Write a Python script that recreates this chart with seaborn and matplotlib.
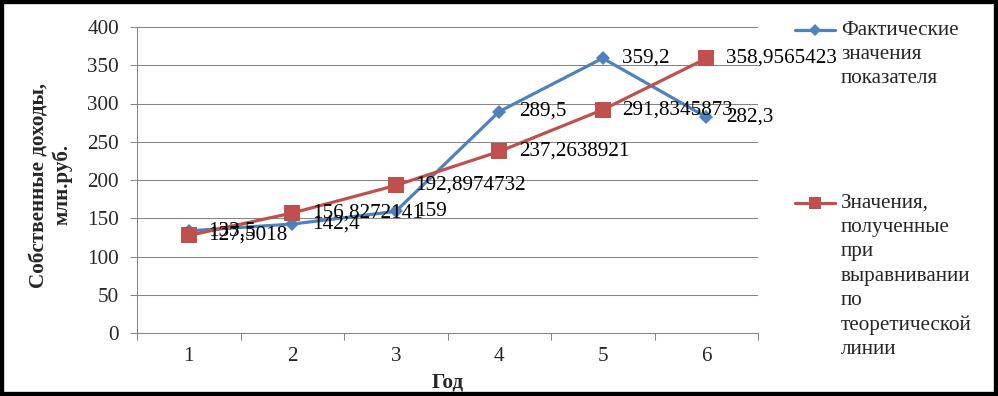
import matplotlib
matplotlib.use('Agg')
import matplotlib.pyplot as plt
from matplotlib.lines import Line2D
from matplotlib.patches import Rectangle
import pandas as pd
import seaborn as sns

years = [1, 2, 3, 4, 5, 6]
fact = [133.5, 142.4, 159, 289.5, 359.2, 282.3]
fact_lbl = ['133,5', '142,4', '159', '289,5', '359,2', '282,3']
trend = [127.5018, 156.8272141, 192.8974732, 237.2638921, 291.8345873, 358.9565423]
trend_lbl = ['127,5018', '156,8272141', '192,8974732', '237,2638921', '291,8345873', '358,9565423']
name_fact = 'Фактические\nзначения\nпоказателя'
name_trend = 'Значения,\nполученные\nпри\nвыравнивании\nпо\nтеоретической\nлинии'
y_ticks = [0, 50, 100, 150, 200, 250, 300, 350, 400]

blue = '#4F81BD'
red = '#C0504D'
grey = '#868686'
fs = 15.2

sns.set_theme(style='white')
plt.rcParams['font.family'] = ['Liberation Serif', 'DejaVu Serif']

df_fact = pd.DataFrame({'year': years, 'value': fact})
df_trend = pd.DataFrame({'year': years, 'value': trend})

fig = plt.figure(figsize=(9.98, 3.96), dpi=100)
ax = fig.add_axes([137/998, 63/396, 621/998, 306/396])

sns.lineplot(data=df_fact, x='year', y='value', ax=ax, color=blue, lw=2.3,
             marker='D', markersize=7.6, markeredgecolor=blue, markeredgewidth=0)
sns.lineplot(data=df_trend, x='year', y='value', ax=ax, color=red, lw=2.3,
             marker='s', markersize=11, markeredgecolor=red, markeredgewidth=0)

for x, y, t in zip(years, fact, fact_lbl):
    ax.annotate(t, (x, y), xytext=(14, 0), textcoords='offset points',
                ha='left', va='center', fontsize=fs, color='black')
for x, y, t in zip(years, trend, trend_lbl):
    ax.annotate(t, (x, y), xytext=(14, 0), textcoords='offset points',
                ha='left', va='center', fontsize=fs, color='black')

ax.set_xlim(0.5, 6.5)
ax.set_ylim(0, 400)
ax.set_yticks(y_ticks)
ax.set_xticks(years)
ax.set_xticks([v + 0.5 for v in [0] + years], minor=True)
ax.set_xticklabels([str(v) for v in years])
ax.tick_params(axis='x', which='major', length=0, pad=10, labelsize=fs)
ax.tick_params(axis='x', which='minor', length=5, width=0.75, color=grey, direction='out', bottom=True)
ax.tick_params(axis='y', length=5, width=0.75, color=grey, direction='out', left=True, pad=8, labelsize=fs)
ax.yaxis.grid(True, color=grey, lw=0.75)
ax.xaxis.grid(False)
for s in ['top', 'right']:
    ax.spines[s].set_visible(False)
for s in ['left', 'bottom']:
    ax.spines[s].set_color(grey)
    ax.spines[s].set_linewidth(0.75)
ax.set_ylabel('')
ax.set_xlabel('Год', fontsize=fs, fontweight='bold', labelpad=5)

fig.text(51/998, 1 - 185/396, 'Собственные доходы,\nмлн.руб.', rotation=90,
         ha='center', va='center', fontsize=fs, fontweight='bold', multialignment='center')

# legend drawn by hand so the sample sits at the first text line
for yy, col, mk, ms, label in [(30, blue, 'D', 6.5, name_fact), (203, red, 's', 9, name_trend)]:
    fy = 1 - yy/396
    fig.add_artist(Line2D([795/998, 835/998], [fy, fy], transform=fig.transFigure,
                          color=col, lw=2.3))
    fig.add_artist(Line2D([815/998], [fy], transform=fig.transFigure, color=col,
                          marker=mk, markersize=ms, markeredgewidth=0))
    fig.text(841/998, 1 - (yy - 9)/396, label, ha='left', va='top',
             fontsize=fs, linespacing=1.37)

fig.patches.append(Rectangle((0, 0), 1, 1, transform=fig.transFigure, fill=False,
                             ec='black', lw=6))

fig.savefig('out.png', dpi=100)
